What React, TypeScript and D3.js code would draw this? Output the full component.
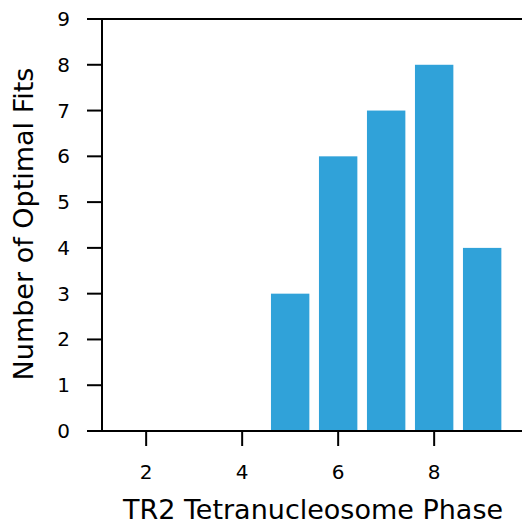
import React from "react";
import { scaleLinear, range } from "d3";

// phase positions and how many optimal fits landed on each
const phases = [2, 3, 4, 5, 6, 7, 8, 9];
const fits = [0, 0, 0, 3, 6, 7, 8, 4];
const xTicks = [2, 4, 6, 8];
const yTicks = range(0, 10);

const W = 522;
const H = 525;

export default function App() {
  const x = scaleLinear().domain([1.08, 9.83]).range([102, 522]);
  const y = scaleLinear().domain([0, 9]).range([431, 19]);
  const barW = x(0.8) - x(0);
  const font = "DejaVu Sans, sans-serif";

  return (
    <svg width={W} height={H} style={{ position: "absolute", left: 0, top: 0 }} fontFamily={font}>
      <rect width={W} height={H} fill="#fff" />
      {/* bars */}
      {phases.map((p, i) => (
        <rect
          key={p}
          x={x(p) - barW / 2}
          y={y(fits[i])}
          width={barW}
          height={y(0) - y(fits[i])}
          fill="#30a2d9"
        />
      ))}
      {/* spines */}
      <line x1={x.range()[0]} x2={W} y1={y(9)} y2={y(9)} stroke="#000" strokeWidth={2} />
      <line x1={x.range()[0]} x2={W} y1={y(0)} y2={y(0)} stroke="#000" strokeWidth={2} />
      <line x1={x.range()[0]} x2={x.range()[0]} y1={y(9)} y2={y(0)} stroke="#000" strokeWidth={2} />
      {/* y ticks */}
      {yTicks.map((t) => (
        <g key={t} transform={`translate(102,${y(t)})`}>
          <line x1={-15} x2={0} stroke="#000" strokeWidth={2} />
          <text x={-32} dy="0.35em" textAnchor="end" fontSize={20}>{t}</text>
        </g>
      ))}
      {/* x ticks */}
      {xTicks.map((t) => (
        <g key={t} transform={`translate(${x(t)},431)`}>
          <line y1={0} y2={15} stroke="#000" strokeWidth={2} />
          <text y={41} dy="0.35em" textAnchor="middle" fontSize={20}>{t}</text>
        </g>
      ))}
      <text x={313} y={510} dy="0.35em" textAnchor="middle" fontSize={27}>
        TR2 Tetranucleosome Phase
      </text>
      <text
        transform={`translate(24,${224}) rotate(-90)`}
        dy="0.35em"
        textAnchor="middle"
        fontSize={27}
      >
        Number of Optimal Fits
      </text>
    </svg>
  );
}
